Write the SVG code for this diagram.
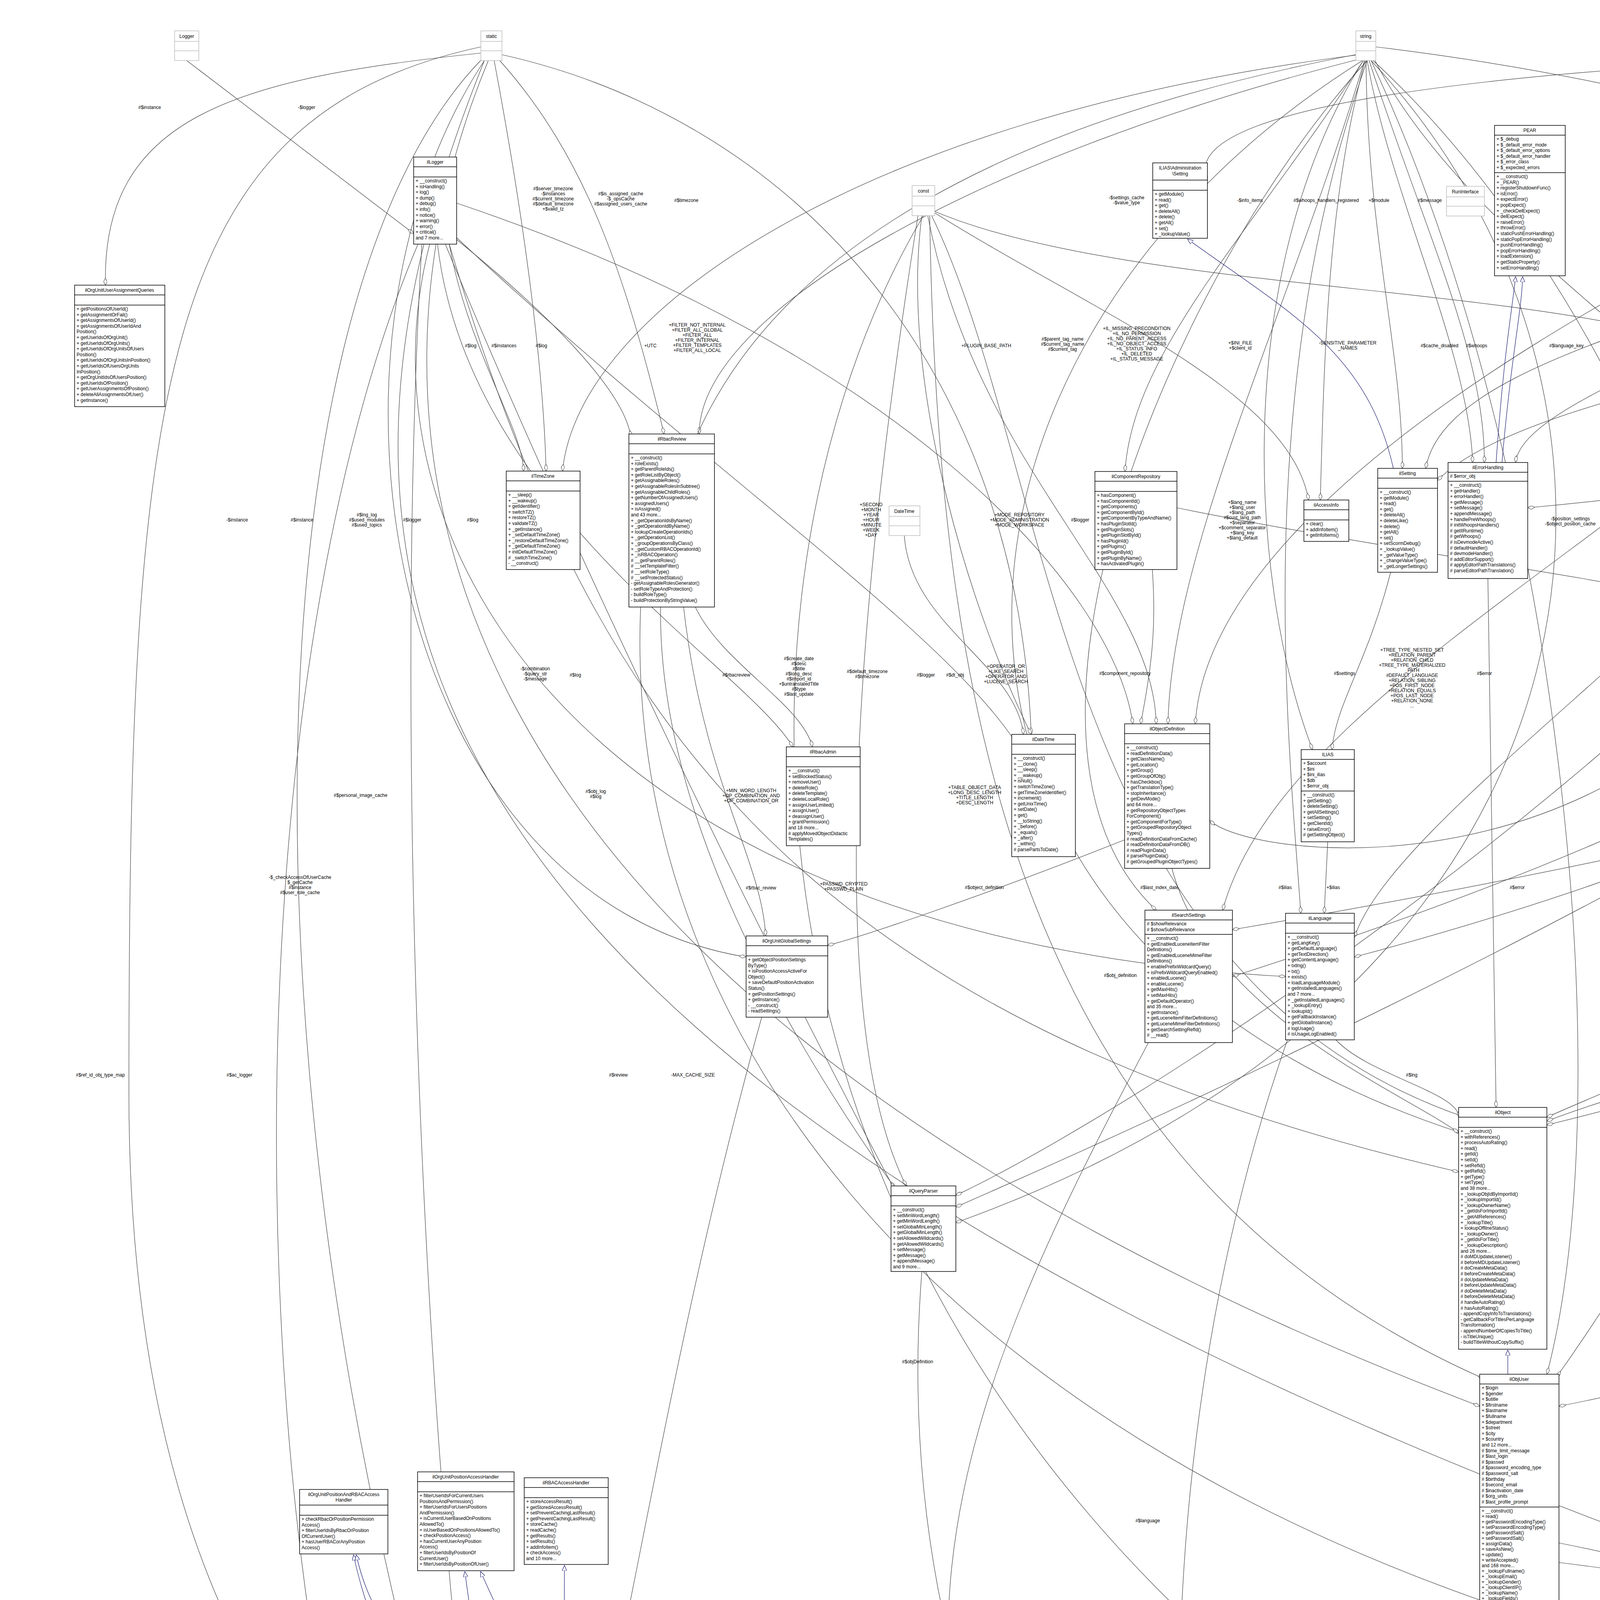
<svg xmlns="http://www.w3.org/2000/svg" width="7960" height="5555" viewBox="0 0 7960 5555">
<style>
text{font-family:"Liberation Sans",Arial,sans-serif;font-size:12px;fill:#000}
.n rect{fill:#fff;stroke:#000;stroke-width:1.5}
.n path{stroke:#000;stroke-width:1.5;fill:none}
.ty rect{fill:#fff;stroke:#bfbfbf;stroke-width:1.5}
.ty path{stroke:#bfbfbf;stroke-width:1.5;fill:none}
.ti{text-anchor:middle}
.e path{fill:none;stroke:#404040;stroke-width:1.2;marker-end:url(#dm)}
.e path.inh{stroke:#191970;marker-end:url(#tri)}
.l text{text-anchor:middle}
.gray rect{fill:#bfbfbf}
</style>
<defs>
<marker id="dm" viewBox="0 0 20 10" refX="20" refY="5" markerWidth="18" markerHeight="9" markerUnits="userSpaceOnUse" orient="auto"><path d="M0,5 L10,0 L20,5 L10,10 Z" fill="#fff" stroke="#404040" stroke-width="1.2"/></marker>
<marker id="tri" viewBox="0 0 14 12" refX="14" refY="6" markerWidth="14" markerHeight="12" markerUnits="userSpaceOnUse" orient="auto"><path d="M0,0 L14,6 L0,12 Z" fill="#fff" stroke="#191970" stroke-width="1.2"/></marker>
</defs>
<rect width="7960" height="5555" fill="#fff"/>
<g id="connectors" class="e">
<path d="M478,155 L1059,598"/>
<path d="M1240,135 C600,200 260,300 270,730"/>
<path d="M1265,155 C1330,500 1390,900 1398,1206"/>
<path d="M1275,150 C1500,400 1600,700 1700,1111"/>
<path d="M1285,140 C2000,300 2600,900 2640,1880"/>
<path d="M1150,625 C1200,900 1340,1100 1340,1206"/>
<path d="M1165,610 C1400,800 1600,1000 1615,1120"/>
<path d="M3480,140 C2200,300 1480,800 1440,1206"/>
<path d="M3485,150 C2500,400 1790,800 1790,1111"/>
<path d="M3490,155 C3200,600 2900,900 2880,1207"/>
<path d="M3493,155 C3300,800 3000,1400 2990,1853"/>
<path d="M3495,155 C3400,500 3390,900 3380,1280"/>
<path d="M3500,155 C3560,500 3760,900 3770,1184"/>
<path d="M3497,155 C3500,600 3590,900 3590,1199"/>
<path d="M3505,155 C3650,600 3800,900 3800,1184"/>
<path d="M3490,155 C3150,700 3200,1500 3360,1919"/>
<path d="M3515,155 C4000,600 4400,1400 4400,1902"/>
<path d="M3500,155 C3200,1000 3300,1900 3330,2338"/>
<path d="M3520,155 C3900,900 5600,1700 5650,2340"/>
<path d="M3488,155 C2300,900 2200,2400 3740,2900"/>
<path d="M3470,140 C1600,500 1200,1500 2290,3040"/>
<path d="M3510,155 C4300,1000 4200,2500 2447,3130"/>
<path d="M3500,155 C3000,700 2500,1900 2960,2330"/>
<path d="M3510,155 C4000,1200 4150,2800 3960,3518"/>
<path d="M3522,120 C5000,300 5700,800 6120,1192"/>
<path d="M2360,552 C2300,1000 2500,1600 2640,1880"/>
<path d="M2375,552 C2500,1200 2950,1500 2960,1853"/>
<path d="M2390,540 C3000,800 4500,700 4600,1067"/>
<path d="M2350,552 C2200,1500 2100,2600 2320,3036"/>
<path d="M2385,552 C2700,1200 2700,2500 3750,2860"/>
<path d="M2380,552 C2400,1800 2600,3000 3800,3530"/>
<path d="M2393,545 C2800,800 3300,1000 3350,1280"/>
<path d="M2364,552 C1800,1500 1770,3500 3780,4700"/>
<path d="M2315,1371 C2330,1600 2600,1700 2620,1880"/>
<path d="M4895,553 C4500,800 3700,900 3650,1199"/>
<path d="M4900,553 C4700,800 3900,1000 3880,1184"/>
<path d="M4905,553 C4850,800 4750,950 4740,1067"/>
<path d="M4915,553 C4950,900 4500,1500 4470,1902"/>
<path d="M4890,553 C4600,1200 3300,1700 3130,2330"/>
<path d="M4925,553 C5100,1500 4500,2800 3985,3525"/>
<path d="M4930,553 C5000,1200 3600,2000 3467,2400"/>
<path d="M4933,540 C5350,900 5400,1600 5470,1983"/>
<path d="M4933,553 C5600,700 6100,900 6100,1192"/>
<path d="M4925,553 C5600,1000 5650,1700 3155,2500"/>
<path d="M5504,130 C4900,300 4700,800 4700,1067"/>
<path d="M5510,152 C5400,250 5200,300 5195,365"/>
<path d="M5530,152 C5700,600 6100,900 6150,1192"/>
<path d="M5553,110 C6500,300 6850,800 6860,1177"/>
<path d="M5504,140 C4500,500 3100,1200 3060,1853"/>
<path d="M5528,152 C5200,1500 4700,2400 3990,4650"/>
<path d="M5520,152 C5450,800 4600,1300 4480,1902"/>
<path d="M5540,152 C6000,900 6300,1700 5780,2345"/>
<path d="M5545,152 C6100,400 6100,1100 3911,1300"/>
<path d="M5550,152 C6000,1500 5600,2800 5760,4333"/>
<path d="M5515,152 C5000,1500 3000,2800 2447,3060"/>
<path d="M5540,152 C5530,800 5530,1500 5530,1983"/>
<path d="M5545,152 C5900,900 5900,1800 3467,2450"/>
<path d="M5504,120 C4000,150 3000,250 3091,460"/>
<path d="M7398,152 L7398,422"/>
<path d="M7385,120 C6800,300 6300,800 6200,1192"/>
<path d="M7410,152 C7600,1200 6000,1900 3155,2380"/>
<path d="M7417,130 C7700,800 7000,2000 5803,2400"/>
<path d="M7400,152 C7500,1700 5500,2500 3960,2880"/>
<path d="M7405,152 C7700,2200 6000,3200 3991,3600"/>
<path d="M7379,110 C6500,400 6300,1400 2447,3090"/>
<path d="M7380,130 C6500,200 5400,450 5217,550"/>
<path d="M7390,152 C6500,1500 5300,2400 3997,4700"/>
<path d="M6920,600 C6000,700 4000,900 3680,1230"/>
<path d="M7000,639 L6900,1177"/>
<path d="M7010,639 C6700,1400 6000,2000 5800,2360"/>
<path d="M7030,639 C7000,1800 5000,2400 3960,2860"/>
<path d="M7050,639 C7100,2500 6500,3500 5858,4420"/>
<path d="M7080,639 C7300,3000 7200,4200 6029,5080"/>
<path d="M7100,639 C7400,3500 6000,5300 3224,5470"/>
<path d="M6916,560 C5800,700 5000,1200 4500,1930"/>
<path d="M7252,551 L7270,1220"/>
<path d="M7396,603 C7380,900 7330,1000 7330,1220"/>
<path d="M2950,1458 C2960,1600 2950,1700 2920,1853"/>
<path d="M3013,1300 C4000,1500 5300,1600 5440,1983"/>
<path d="M5436,1378 C5460,1600 5500,1800 5500,1983"/>
<path d="M4600,1597 C4500,1700 4400,1800 4390,1902"/>
<path d="M5100,662 C5000,900 4800,1000 4762,1100"/>
<path d="M4570,1597 C4100,2300 3200,2200 3097,2100"/>
<path d="M1780,1554 C1850,1700 2050,1800 2080,1912"/>
<path d="M1750,1554 C1800,2000 1950,2200 1960,2396"/>
<path d="M1640,1554 C1580,3000 3000,4300 5683,4450"/>
<path d="M3560,1465 C3500,1700 3420,1800 3410,1919"/>
<path d="M3399,2155 L3390,2338"/>
<path d="M3420,2662 C3500,2750 3740,2800 3734,2860"/>
<path d="M3000,2223 C3100,2600 3600,2800 3734,2900"/>
<path d="M3809,1481 L3830,2835"/>
<path d="M3800,4269 C3750,4400 3780,4500 3860,4635"/>
<path d="M3991,4000 C4800,4100 5300,4250 5683,4390"/>
<path d="M3991,3950 C5000,4150 5500,4500 5855,5080"/>
<path d="M5683,4460 C5200,4600 4500,4700 3997,4790"/>
<path d="M3997,4820 C4600,5000 5400,5100 5850,5120"/>
<path d="M5700,2656 C5900,3500 6050,4400 5980,5023"/>
<path d="M5660,2656 C5600,3500 5700,4000 5720,4333"/>
<path d="M5770,3990 L5770,4333"/>
<path d="M5822,2147 C5820,2250 5800,2300 5795,2340"/>
<path d="M6160,1474 C6300,2800 6200,4000 6029,5090"/>
<path d="M6820,1487 C6800,3000 6200,4000 5858,4450"/>
<path d="M2940,2669 C2500,3500 2000,4500 3050,5440"/>
<path d="M2360,3255 C2300,4000 2500,4800 3080,5414"/>
<path d="M3788,4100 C3000,4300 2200,4500 3110,5414"/>
<path d="M3780,4760 C3500,5000 3300,5200 3180,5414"/>
<path d="M5850,5150 C5000,5300 4000,5420 3224,5500"/>
<path d="M3300,2650 C3000,3500 2950,4500 3100,5414"/>
<path d="M1950,2604 C1700,3500 1600,4300 1426,4937"/>
<path d="M2879,2150 C2500,2300 2200,2400 2119,2420"/>
<path d="M1494,5000 C2500,4900 3300,4800 3780,4740"/>
<path d="M5489,2090 C5200,2600 4400,2700 3960,2870"/>
<path d="M1169,520 C2300,900 2850,1500 2900,1853"/>
<path d="M1160,600 C1800,1200 2400,1600 2600,1900"/>
<path d="M1080,625 C1000,2000 1100,4000 1260,4937"/>
<path d="M1120,625 C1200,1300 1900,1700 2030,1912"/>
<path d="M1140,625 C1500,1500 2000,2500 2290,3045"/>
<path d="M1150,625 C1500,1800 2000,2600 3734,3000"/>
<path d="M1100,625 C900,1400 1500,2400 3291,2500"/>
<path d="M1070,625 C700,1500 620,3000 800,4200 C1200,4700 2800,4650 3780,4680"/>
<path d="M1231,120 C400,300 330,1000 330,2800 C330,4800 1500,5350 3042,5470"/>
<path d="M1250,155 C900,1000 900,2500 3788,3600"/>
<path d="M1240,155 C700,1500 800,3000 5683,4420"/>
<path d="M1235,150 C600,800 600,3000 1250,4950"/>
<path d="M1240,155 C750,900 1000,2300 1910,2450"/>
<path class="inh" d="M3860,3518 L3860,3456"/>
<path class="inh" d="M3830,1184 C3850,900 3870,800 3880,708"/>
<path class="inh" d="M3845,1184 C3870,900 3895,800 3898,708"/>
<path class="inh" d="M3567,1199 C3500,900 3300,800 3040,612"/>
<path class="inh" d="M5075,365 C5050,250 4960,260 4960,230"/>
<path class="inh" d="M1315,4937 L1190,4023"/>
<path class="inh" d="M1282,4937 C1100,4500 950,4200 905,3980"/>
<path class="inh" d="M1385,4430 C1100,4300 960,4200 912,3980"/>
<path class="inh" d="M1410,4416 L1230,4023"/>
<path class="inh" d="M1443,4416 L1445,4007"/>
<path class="inh" d="M3780,4790 C3000,4700 2000,4550 1502,4490"/>
</g>
<g id="edge-labels" class="l">
<text x="785" y="279">-$logger</text>
<text x="383" y="279">#$instance</text>
<text x="1416" y="487"><tspan x="1416">#$server_timezone</tspan><tspan x="1416" dy="13">-$instances</tspan><tspan x="1416" dy="13">#$current_timezone</tspan><tspan x="1416" dy="13">#$default_timezone</tspan><tspan x="1416" dy="13">+$valid_tz</tspan></text>
<text x="1589" y="500"><tspan x="1589">#$is_assigned_cache</tspan><tspan x="1589" dy="13">-$_opsCache</tspan><tspan x="1589" dy="13">#$assigned_users_cache</tspan></text>
<text x="1757" y="517">#$timezone</text>
<text x="1205" y="889">#$log</text>
<text x="1290" y="889">#$instances</text>
<text x="1386" y="889">#$log</text>
<text x="1665" y="889">+UTC</text>
<text x="1785" y="836"><tspan x="1785">+FILTER_NOT_INTERNAL</tspan><tspan x="1785" dy="13">+FILTER_ALL_GLOBAL</tspan><tspan x="1785" dy="13">+FILTER_ALL</tspan><tspan x="1785" dy="13">+FILTER_INTERNAL</tspan><tspan x="1785" dy="13">+FILTER_TEMPLATES</tspan><tspan x="1785" dy="13">+FILTER_ALL_LOCAL</tspan></text>
<text x="2525" y="889">+PLUGIN_BASE_PATH</text>
<text x="2720" y="872"><tspan x="2720">#$parent_tag_name</tspan><tspan x="2720" dy="13">#$current_tag_name</tspan><tspan x="2720" dy="13">#$current_tag</tspan></text>
<text x="2910" y="845"><tspan x="2910">+IL_MISSING_PRECONDITION</tspan><tspan x="2910" dy="13">+IL_NO_PERMISSION</tspan><tspan x="2910" dy="13">+IL_NO_PARENT_ACCESS</tspan><tspan x="2910" dy="13">+IL_NO_OBJECT_ACCESS</tspan><tspan x="2910" dy="13">+IL_STATUS_INFO</tspan><tspan x="2910" dy="13">+IL_DELETED</tspan><tspan x="2910" dy="13">+IL_STATUS_MESSAGE</tspan></text>
<text x="2884" y="510"><tspan x="2884">-$settings_cache</tspan><tspan x="2884" dy="13">-$value_type</tspan></text>
<text x="3200" y="517">-$info_items</text>
<text x="3395" y="517">#$whoops_handlers_registered</text>
<text x="3530" y="517">+$module</text>
<text x="3660" y="517">#$message</text>
<text x="4442" y="461"><tspan x="4442">#$types</tspan><tspan x="4442" dy="13">#$unique_service</tspan><tspan x="4442" dy="13">_id</tspan><tspan x="4442" dy="13">#$active_components</tspan><tspan x="4442" dy="13">#$type_per_component</tspan><tspan x="4442" dy="13">#$available_components</tspan><tspan x="4442" dy="13">#$settings</tspan><tspan x="4442" dy="13">#$instances</tspan><tspan x="4442" dy="13">#$available_types</tspan><tspan x="4442" dy="13">#$active_cache</tspan></text>
<text x="4610" y="517">#$component</text>
<text x="4795" y="517">+$setting</text>
<text x="5280" y="279">#$valid_keys</text>
<text x="5010" y="517">$instance</text>
<text x="6030" y="267"><tspan x="6030">#$current_time</tspan><tspan x="6030" dy="13">#$service_type</tspan></text>
<text x="6065" y="496"><tspan x="6065">-$MESSAGE</tspan><tspan x="6065" dy="13">+$FATAL</tspan><tspan x="6065" dy="13">+$WARNING</tspan></text>
<text x="6195" y="475"><tspan x="6195">$mime_filter</tspan><tspan x="6195" dy="13">-$item_filter</tspan><tspan x="6195" dy="13">-$failed</tspan><tspan x="6195" dy="13">-$creation_filter</tspan><tspan x="6195" dy="13">-$checked</tspan><tspan x="6195" dy="13">-$search_result</tspan></text>
<text x="6300" y="515">#$service_type</text>
<text x="6690" y="490"><tspan x="6690">-$page_number</tspan><tspan x="6690" dy="13">-$root</tspan><tspan x="6690" dy="13">-$usr_id</tspan><tspan x="6690" dy="13">-$search_type</tspan></text>
<text x="6845" y="496"><tspan x="6845">#$object_data_cache</tspan><tspan x="6845" dy="13">#$description_trans</tspan><tspan x="6845" dy="13">#$reference_cache</tspan><tspan x="6845" dy="13">#$trans_loaded</tspan></text>
<text x="7405" y="258"><tspan x="7405">#$g</tspan><tspan x="7405" dy="13">#$r</tspan><tspan x="7405" dy="13">#$b</tspan></text>
<text x="3175" y="882"><tspan x="3175">+$INI_FILE</tspan><tspan x="3175" dy="13">+$client_id</tspan></text>
<text x="3450" y="882"><tspan x="3450">-SENSITIVE_PARAMETER</tspan><tspan x="3450" dy="13">_NAMES</tspan></text>
<text x="3685" y="889">#$cache_disabled</text>
<text x="3780" y="889">#$whoops</text>
<text x="4010" y="889">#$language_key</text>
<text x="4215" y="820"><tspan x="4215">+COMP_PLUGINS</tspan><tspan x="4215" dy="13">+COMP_ILCTRL</tspan><tspan x="4215" dy="13">+TYPE_APC</tspan><tspan x="4215" dy="13">+COMP_OBJ_DEF</tspan><tspan x="4215" dy="13">+TYPE_STATIC</tspan><tspan x="4215" dy="13">+COMP_GLOBAL_SCREEN</tspan><tspan x="4215" dy="13">+COMP_TEMPLATE</tspan><tspan x="4215" dy="13">+ACTIVE</tspan><tspan x="4215" dy="13">+MSG</tspan><tspan x="4215" dy="13">+COMP_TPL_VARIABLES</tspan><tspan x="4215" dy="13">...</tspan></text>
<text x="4405" y="876"><tspan x="4405">#$obj_data</tspan><tspan x="4405" dy="13">#$obj_group</tspan><tspan x="4405" dy="13">#$sub_types</tspan></text>
<text x="4655" y="889">#$DEBUG_ENV</text>
<text x="4800" y="889">#$active</text>
<text x="5010" y="889">#$global_cache</text>
<text x="5160" y="889">#$db</text>
<text x="5330" y="889">#$db</text>
<text x="5420" y="889">#$translations</text>
<text x="5520" y="889">#$listener</text>
<text x="5740" y="846"><tspan x="5740">+LUCENE_DEFAULT</tspan><tspan x="5740" dy="13">+ADVANCED_SEARCH</tspan><tspan x="5740" dy="13">+LAST_QUERY</tspan><tspan x="5740" dy="13">+ADVANCED_MD_SEARCH</tspan><tspan x="5740" dy="13">+LUCENE_USER_SEARCH</tspan><tspan x="5740" dy="13">+LUCENE_ADVANCED</tspan><tspan x="5740" dy="13">+DEFAULT_SEARCH</tspan></text>
<text x="5940" y="889">-$isAnonymous</text>
<text x="6720" y="889">#$db</text>
<text x="6930" y="889">#$db</text>
<text x="7255" y="889">-$dimensionfactory</text>
<text x="7465" y="889">-$colorfactory</text>
<text x="1055" y="1335">#$logger</text>
<text x="1210" y="1335">#$log</text>
<text x="607" y="1335">-$instance</text>
<text x="773" y="1335">#$instance</text>
<text x="939" y="1322"><tspan x="939">#$lng_log</tspan><tspan x="939" dy="13">#$used_modules</tspan><tspan x="939" dy="13">#$used_topics</tspan></text>
<text x="2230" y="1296"><tspan x="2230">+SECOND</tspan><tspan x="2230" dy="13">+MONTH</tspan><tspan x="2230" dy="13">+YEAR</tspan><tspan x="2230" dy="13">+HOUR</tspan><tspan x="2230" dy="13">+MINUTE</tspan><tspan x="2230" dy="13">+WEEK</tspan><tspan x="2230" dy="13">+DAY</tspan></text>
<text x="2610" y="1322"><tspan x="2610">+MODE_REPOSITORY</tspan><tspan x="2610" dy="13">+MODE_ADMINISTRATION</tspan><tspan x="2610" dy="13">+MODE_WORKSPACE</tspan></text>
<text x="2765" y="1335">#$logger</text>
<text x="3180" y="1290"><tspan x="3180">+$lang_name</tspan><tspan x="3180" dy="13">+$lang_user</tspan><tspan x="3180" dy="13">+$lang_path</tspan><tspan x="3180" dy="13">#$cust_lang_path</tspan><tspan x="3180" dy="13">+$separator</tspan><tspan x="3180" dy="13">+$comment_separator</tspan><tspan x="3180" dy="13">+$lang_key</tspan><tspan x="3180" dy="13">+$lang_default</tspan></text>
<text x="4020" y="1332"><tspan x="4020">-$position_settings</tspan><tspan x="4020" dy="13">-$object_position_cache</tspan></text>
<text x="4480" y="1300"><tspan x="4480">#$table_obj_data</tspan><tspan x="4480" dy="13">#$tree_pk</tspan><tspan x="4480" dy="13">#$table_obj_reference</tspan><tspan x="4480" dy="13">-$lang_code</tspan><tspan x="4480" dy="13">#$obj_pk</tspan><tspan x="4480" dy="13">#$ref_pk</tspan><tspan x="4480" dy="13">#$table_tree</tspan></text>
<text x="4890" y="1335">#$loaded</text>
<text x="5655" y="1329"><tspan x="5655">#$lucene_item_filter</tspan><tspan x="5655" dy="13">#$lucene_mime_filter</tspan></text>
<text x="5880" y="1316"><tspan x="5880">#$cached_modules</tspan><tspan x="5880" dy="13">#$map_modules_txt</tspan><tspan x="5880" dy="13">#$loaded_modules</tspan><tspan x="5880" dy="13">#$text</tspan></text>
<text x="6350" y="1290"><tspan x="6350">#$not_preloaded</tspan><tspan x="6350" dy="13">#$translation_cache</tspan><tspan x="6350" dy="13">#$is_saved_cache</tspan><tspan x="6350" dy="13">#$in_tree_cache</tspan><tspan x="6350" dy="13">#$path_id_cache</tspan><tspan x="6350" dy="13">#$parent_cache</tspan><tspan x="6350" dy="13">#$parent_type_cache</tspan><tspan x="6350" dy="13">#$depth_cache</tspan></text>
<text x="6480" y="1339">#$db</text>
<text x="6725" y="1339">#$db</text>
<text x="7520" y="1303"><tspan x="7520">#$auto_complete_length</tspan><tspan x="7520" dy="13">-$max_hits</tspan><tspan x="7520" dy="13">#$numSubitems</tspan><tspan x="7520" dy="13">#$fragmentSize</tspan><tspan x="7520" dy="13">#$default_operator</tspan><tspan x="7520" dy="13">#$fragmentCount</tspan></text>
<text x="7640" y="1322"><tspan x="7640">#$tree_id</tspan><tspan x="7640" dy="13">-$gap</tspan><tspan x="7640" dy="13">#$root_id</tspan></text>
<text x="1370" y="1716"><tspan x="1370">-$combination</tspan><tspan x="1370" dy="13">-$query_str</tspan><tspan x="1370" dy="13">-$message</tspan></text>
<text x="1473" y="1732">#$log</text>
<text x="1885" y="1732">#$rbacreview</text>
<text x="2045" y="1690"><tspan x="2045">#$create_date</tspan><tspan x="2045" dy="13">#$desc</tspan><tspan x="2045" dy="13">#$title</tspan><tspan x="2045" dy="13">#$long_desc</tspan><tspan x="2045" dy="13">#$import_id</tspan><tspan x="2045" dy="13">+$untranslatedTitle</tspan><tspan x="2045" dy="13">#$type</tspan><tspan x="2045" dy="13">#$last_update</tspan></text>
<text x="2220" y="1723"><tspan x="2220">#$default_timezone</tspan><tspan x="2220" dy="13">#$timezone</tspan></text>
<text x="2370" y="1732">#$logger</text>
<text x="2445" y="1732">#$dt_obj</text>
<text x="2575" y="1710"><tspan x="2575">+OPERATOR_OR</tspan><tspan x="2575" dy="13">+LIKE_SEARCH</tspan><tspan x="2575" dy="13">+OPERATOR_AND</tspan><tspan x="2575" dy="13">+LUCENE_SEARCH</tspan></text>
<text x="2880" y="1728">#$component_repository</text>
<text x="3442" y="1728">#$settings</text>
<text x="3615" y="1668"><tspan x="3615">+TREE_TYPE_NESTED_SET</tspan><tspan x="3615" dy="13">+RELATION_PARENT</tspan><tspan x="3615" dy="13">+RELATION_CHILD</tspan><tspan x="3615" dy="13">+TREE_TYPE_MATERIALIZED</tspan><tspan x="3615" dy="13">_PATH</tspan><tspan x="3615" dy="13">#DEFAULT_LANGUAGE</tspan><tspan x="3615" dy="13">+RELATION_SIBLING</tspan><tspan x="3615" dy="13">+POS_FIRST_NODE</tspan><tspan x="3615" dy="13">+RELATION_EQUALS</tspan><tspan x="3615" dy="13">+POS_LAST_NODE</tspan><tspan x="3615" dy="13">+RELATION_NONE</tspan><tspan x="3615" dy="13">...</tspan></text>
<text x="3800" y="1728">#$error</text>
<text x="4243" y="1722"><tspan x="4243">-$quoted_words</tspan><tspan x="4243" dy="13">-$words</tspan></text>
<text x="4370" y="1728">#$global_cache</text>
<text x="4656" y="1663"><tspan x="4656">#$show_limited_user</tspan><tspan x="4656" dy="13">#$lucene_mime_filter</tspan><tspan x="4656" dy="13">_enabled</tspan><tspan x="4656" dy="13">#$date_filter</tspan><tspan x="4656" dy="13">#$user_search</tspan><tspan x="4656" dy="13">#$show_inactiv_user</tspan><tspan x="4656" dy="13">#$lucene</tspan><tspan x="4656" dy="13">#$lucene_offline</tspan><tspan x="4656" dy="13">_filter</tspan><tspan x="4656" dy="13">#$prefix_wildcard</tspan><tspan x="4656" dy="13">#$hide_adv_search</tspan><tspan x="4656" dy="13">#$lucene_item_filter</tspan><tspan x="4656" dy="13">_enabled</tspan><tspan x="4656" dy="13">...</tspan></text>
<text x="4890" y="1728">#$usage_log_enabled</text>
<text x="5230" y="1728">#$component_repository</text>
<text x="5380" y="1728">#$use_cache</text>
<text x="5505" y="1728">#$component_factory</text>
<text x="6040" y="1728">+$objectList</text>
<text x="6545" y="1722"><tspan x="6545">-$min_word_length</tspan><tspan x="6545" dy="13">-$global_min_length</tspan></text>
<text x="6830" y="1728">#$db</text>
<text x="7540" y="1700"><tspan x="7540">#$ref_id</tspan><tspan x="7540" dy="13">#$max_desc</tspan><tspan x="7540" dy="13">#$max_title</tspan><tspan x="7540" dy="13">#$owner</tspan><tspan x="7540" dy="13">#$id</tspan></text>
<text x="923" y="2040">#$personal_image_cache</text>
<text x="1525" y="2030"><tspan x="1525">#$obj_log</tspan><tspan x="1525" dy="13">#$log</tspan></text>
<text x="1923" y="2028"><tspan x="1923">+MIN_WORD_LENGTH</tspan><tspan x="1923" dy="13">+OP_COMBINATION_AND</tspan><tspan x="1923" dy="13">+OP_COMBINATION_OR</tspan></text>
<text x="2495" y="2020"><tspan x="2495">+TABLE_OBJECT_DATA</tspan><tspan x="2495" dy="13">+LONG_DESC_LENGTH</tspan><tspan x="2495" dy="13">+TITLE_LENGTH</tspan><tspan x="2495" dy="13">+DESC_LENGTH</tspan></text>
<text x="4260" y="1980"><tspan x="4260">#$ext_account</tspan><tspan x="4260" dy="13">+$email</tspan><tspan x="4260" dy="13">+$phone_office</tspan><tspan x="4260" dy="13">+$institution</tspan><tspan x="4260" dy="13">#$first_login</tspan><tspan x="4260" dy="13">+$longitude</tspan><tspan x="4260" dy="13">+$hobby</tspan><tspan x="4260" dy="13">+$zipcode</tspan><tspan x="4260" dy="13">#$passwd_type</tspan><tspan x="4260" dy="13">+$referral_comment</tspan><tspan x="4260" dy="13">...</tspan></text>
<text x="4880" y="2038">-$wildcards_allowed</text>
<text x="5290" y="2003"><tspan x="5290">#$register</tspan><tspan x="5290" dy="13">#$call_by_reference</tspan><tspan x="5290" dy="13">#$referenced</tspan><tspan x="5290" dy="13">#$offline</tspan><tspan x="5290" dy="13">$process_auto</tspan><tspan x="5290" dy="13">_reating</tspan><tspan x="5290" dy="13">#$add_dots</tspan></text>
<text x="7654" y="2000"><tspan x="7654">#$time_limit_owner</tspan><tspan x="7654" dy="13">+$active</tspan><tspan x="7654" dy="13">#$time_limit_from</tspan><tspan x="7654" dy="13">#$time_limit_until</tspan><tspan x="7654" dy="13">+$login_attempts</tspan><tspan x="7654" dy="13">#$last_password_change_ts</tspan></text>
<text x="768" y="2250"><tspan x="768">-$_checkAccessOfUserCache</tspan><tspan x="768" dy="13">$_getCache</tspan><tspan x="768" dy="13">#$instance</tspan><tspan x="768" dy="13">#$user_role_cache</tspan></text>
<text x="1948" y="2277">#$rbac_review</text>
<text x="2160" y="2267"><tspan x="2160">+PASSWD_CRYPTED</tspan><tspan x="2160" dy="13">+PASSWD_PLAIN</tspan></text>
<text x="2520" y="2276">#$object_definition</text>
<text x="2968" y="2276">#$last_index_date</text>
<text x="3290" y="2276">#$ilias</text>
<text x="3413" y="2276">+$ilias</text>
<text x="3884" y="2276">#$error</text>
<text x="4147" y="2276">#$global_cache</text>
<text x="5311" y="2262"><tspan x="5311">#$profile_incomplete</tspan><tspan x="5311" dy="13">#$passwd_policy_reset</tspan><tspan x="5311" dy="13">#$time_limit_unlimited</tspan><tspan x="5311" dy="13">-$is_self_registered</tspan></text>
<text x="5848" y="2274">$tree_impl</text>
<text x="2868" y="2501">#$obj_definition</text>
<text x="4755" y="2450"><tspan x="4755">#$obj_tree_cache</tspan><tspan x="4755" dy="13">#$current_result_element</tspan><tspan x="4755" dy="13">#$last_result</tspan><tspan x="4755" dy="13">#$results</tspan><tspan x="4755" dy="13">#$stored_rbac_access</tspan><tspan x="4755" dy="13">#$obj_id_cache</tspan><tspan x="4755" dy="13">#$ac_cache</tspan><tspan x="4755" dy="13">#$obj_type_cache</tspan></text>
<text x="4962" y="2502">#$app_event_handler</text>
<text x="5310" y="2502">-MAX_CACHE_ENTRIES</text>
<text x="3614" y="2756">#$lng</text>
<text x="257" y="2756">#$ref_id_obj_type_map</text>
<text x="613" y="2756">#$ac_logger</text>
<text x="1583" y="2756">#$review</text>
<text x="1774" y="2756">-MAX_CACHE_SIZE</text>
<text x="5540" y="2712"><tspan x="5540">#$condition</tspan><tspan x="5540" dy="13">#$rbac</tspan><tspan x="5540" dy="13">#$status</tspan><tspan x="5540" dy="13">#$path</tspan><tspan x="5540" dy="13">-$prevent_caching</tspan><tspan x="5540" dy="13">_last_result</tspan><tspan x="5540" dy="13">#$cache</tspan><tspan x="5540" dy="13">#$tree</tspan></text>
<text x="6717" y="2758">#$objectDataCache</text>
<text x="7000" y="2758">#$db</text>
<text x="5949" y="3490">#$tree</text>
<text x="6628" y="3490">#$search_cache</text>
<text x="7270" y="3490">-$db</text>
<text x="2349" y="3490">#$objDefinition</text>
<text x="2938" y="3897">#$language</text>
<text x="3910" y="4455">#$user</text>
<text x="4700" y="4204">#$user</text>
<text x="5288" y="4305">#$user</text>
<text x="5791" y="4302">#$http</text>
<text x="6048" y="4302">#$tree</text>
<text x="1583" y="4305">-$ref</text>
<text x="1821" y="4305">#$search_settings</text>
<text x="1984" y="4606">-$user</text>
<text x="2081" y="4606">-$query_parser</text>
<text x="5543" y="4607">#$rbacsystem</text>
<text x="1962" y="4907">#$ilOrgUnitPositionAccess</text>
<text x="2959" y="4907">-$access</text>
<text x="4701" y="4908">#$ilAccess</text>
<text x="4007" y="5383">#search_result</text>
</g>
<g id="Logger" class="ty"><rect x="447" y="79" width="62" height="76"/><text class="ti" x="478" y="97">Logger</text><path d="M447,106 h62 M447,130 h62"/></g>
<g id="static" class="ty"><rect x="1231" y="79" width="54" height="76"/><text class="ti" x="1258" y="97">static</text><path d="M1231,106 h54 M1231,130 h54"/></g>
<g id="string" class="ty"><rect x="3471" y="79" width="51" height="76"/><text class="ti" x="3496" y="97">string</text><path d="M3471,106 h51 M3471,130 h51"/></g>
<g id="array" class="ty"><rect x="5504" y="80" width="49" height="72"/><text class="ti" x="5528" y="98">array</text><path d="M5504,106 h49 M5504,129 h49"/></g>
<g id="int" class="ty"><rect x="7379" y="80" width="38" height="72"/><text class="ti" x="7398" y="98">int</text><path d="M7379,106 h38 M7379,129 h38"/></g>
<g id="const" class="ty"><rect x="2335" y="475" width="58" height="77"/><text class="ti" x="2364" y="493">const</text><path d="M2335,502 h58 M2335,527 h58"/></g>
<g id="RunInterface" class="ty"><rect x="3703" y="477" width="97" height="76"/><text class="ti" x="3751" y="495">RunInterface</text><path d="M3703,504 h97 M3703,528 h97"/></g>
<g id="bool" class="ty"><rect x="4886" y="477" width="47" height="76"/><text class="ti" x="4909" y="495">bool</text><path d="M4886,504 h47 M4886,528 h47"/></g>
<g id="Dimension" class="ty"><rect x="7211" y="474" width="83" height="77"/><text class="ti" x="7252" y="492">Dimension</text><path d="M7211,501 h83 M7211,526 h83"/></g>
<g id="DateTime" class="ty"><rect x="2276" y="1295" width="79" height="76"/><text class="ti" x="2315" y="1313">DateTime</text><path d="M2276,1322 h79 M2276,1346 h79"/></g>
<g id="ilAccessHandler" class="n"><rect x="1385" y="4416" width="117" height="74"/><text class="ti" x="1443" y="4433">ilAccessHandler</text><path d="M1385,4441 h117 M1385,4466 h117"/></g>
<g id="ilLogger" class="n"><rect x="1059" y="402" width="110" height="223"/><text class="ti" x="1114" y="419">ilLogger</text><path d="M1059,427 h110 M1059,453 h110"/><text x="1064" y="467"><tspan x="1064">+ __construct()</tspan><tspan x="1064" dy="14.6">+ isHandling()</tspan><tspan x="1064" dy="14.6">+ log()</tspan><tspan x="1064" dy="14.6">+ dump()</tspan><tspan x="1064" dy="14.6">+ debug()</tspan><tspan x="1064" dy="14.6">+ info()</tspan><tspan x="1064" dy="14.6">+ notice()</tspan><tspan x="1064" dy="14.6">+ warning()</tspan><tspan x="1064" dy="14.6">+ error()</tspan><tspan x="1064" dy="14.6">+ critical()</tspan><tspan x="1064" dy="14.6">and 7 more...</tspan></text></g>
<g id="ilOrgUnitUserAssignmentQueries" class="n"><rect x="191" y="730" width="231" height="311"/><text class="ti" x="306" y="747">ilOrgUnitUserAssignmentQueries</text><path d="M191,755 h231 M191,781 h231"/><text x="196" y="795"><tspan x="196">+ getPositionsOfUserId()</tspan><tspan x="196" dy="14.6">+ getAssignmentOrFail()</tspan><tspan x="196" dy="14.6">+ getAssignmentsOfUserId()</tspan><tspan x="196" dy="14.6">+ getAssignmentsOfUserIdAnd</tspan><tspan x="196" dy="14.6">Position()</tspan><tspan x="196" dy="14.6">+ getUserIdsOfOrgUnit()</tspan><tspan x="196" dy="14.6">+ getUserIdsOfOrgUnits()</tspan><tspan x="196" dy="14.6">+ getUserIdsOfOrgUnitsOfUsers</tspan><tspan x="196" dy="14.6">Position()</tspan><tspan x="196" dy="14.6">+ getUserIdsOfOrgUnitsInPosition()</tspan><tspan x="196" dy="14.6">+ getUserIdsOfUsersOrgUnits</tspan><tspan x="196" dy="14.6">InPosition()</tspan><tspan x="196" dy="14.6">+ getOrgUnitIdsOfUsersPosition()</tspan><tspan x="196" dy="14.6">+ getUserIdsOfPosition()</tspan><tspan x="196" dy="14.6">+ getUserAssignmentsOfPosition()</tspan><tspan x="196" dy="14.6">+ deleteAllAssignmentsOfUser()</tspan><tspan x="196" dy="14.6">+ getInstance()</tspan></text></g>
<g id="ilTimeZone" class="n"><rect x="1296" y="1206" width="189" height="252"/><text class="ti" x="1390" y="1223">ilTimeZone</text><path d="M1296,1231 h189 M1296,1257 h189"/><text x="1301" y="1271"><tspan x="1301">+ __sleep()</tspan><tspan x="1301" dy="14.6">+ __wakeup()</tspan><tspan x="1301" dy="14.6">+ getIdentifier()</tspan><tspan x="1301" dy="14.6">+ switchTZ()</tspan><tspan x="1301" dy="14.6">+ restoreTZ()</tspan><tspan x="1301" dy="14.6">+ validateTZ()</tspan><tspan x="1301" dy="14.6">+ _getInstance()</tspan><tspan x="1301" dy="14.6">+ _setDefaultTimeZone()</tspan><tspan x="1301" dy="14.6">+ _restoreDefaultTimeZone()</tspan><tspan x="1301" dy="14.6">+ _getDefaultTimeZone()</tspan><tspan x="1301" dy="14.6">+ initDefaultTimeZone()</tspan><tspan x="1301" dy="14.6"># _switchTimeZone()</tspan><tspan x="1301" dy="14.6">- __construct()</tspan></text></g>
<g id="ilRbacReview" class="n"><rect x="1610" y="1111" width="219" height="443"/><text class="ti" x="1720" y="1128">ilRbacReview</text><path d="M1610,1136 h219 M1610,1162 h219"/><text x="1615" y="1176"><tspan x="1615">+ __construct()</tspan><tspan x="1615" dy="14.6">+ roleExists()</tspan><tspan x="1615" dy="14.6">+ getParentRoleIds()</tspan><tspan x="1615" dy="14.6">+ getRoleListByObject()</tspan><tspan x="1615" dy="14.6">+ getAssignableRoles()</tspan><tspan x="1615" dy="14.6">+ getAssignableRolesInSubtree()</tspan><tspan x="1615" dy="14.6">+ getAssignableChildRoles()</tspan><tspan x="1615" dy="14.6">+ getNumberOfAssignedUsers()</tspan><tspan x="1615" dy="14.6">+ assignedUsers()</tspan><tspan x="1615" dy="14.6">+ isAssigned()</tspan><tspan x="1615" dy="14.6">and 43 more...</tspan><tspan x="1615" dy="14.6">+ _getOperationIdsByName()</tspan><tspan x="1615" dy="14.6">+ _getOperationIdByName()</tspan><tspan x="1615" dy="14.6">+ lookupCreateOperationIds()</tspan><tspan x="1615" dy="14.6">+ _getOperationList()</tspan><tspan x="1615" dy="14.6">+ _groupOperationsByClass()</tspan><tspan x="1615" dy="14.6">+ _getCustomRBACOperationId()</tspan><tspan x="1615" dy="14.6">+ _isRBACOperation()</tspan><tspan x="1615" dy="14.6"># __getParentRoles()</tspan><tspan x="1615" dy="14.6"># __setTemplateFilter()</tspan><tspan x="1615" dy="14.6"># __setRoleType()</tspan><tspan x="1615" dy="14.6"># __setProtectedStatus()</tspan><tspan x="1615" dy="14.6">- getAssignableRolesGenerator()</tspan><tspan x="1615" dy="14.6">- setRoleTypeAndProtection()</tspan><tspan x="1615" dy="14.6">- buildRoleType()</tspan><tspan x="1615" dy="14.6">- buildProtectionByStringValue()</tspan></text></g>
<g id="ilComponentRepository" class="n"><rect x="2803" y="1207" width="210" height="251"/><text class="ti" x="2908" y="1224">ilComponentRepository</text><path d="M2803,1232 h210 M2803,1258 h210"/><text x="2808" y="1272"><tspan x="2808">+ hasComponent()</tspan><tspan x="2808" dy="14.6">+ hasComponentId()</tspan><tspan x="2808" dy="14.6">+ getComponents()</tspan><tspan x="2808" dy="14.6">+ getComponentById()</tspan><tspan x="2808" dy="14.6">+ getComponentByTypeAndName()</tspan><tspan x="2808" dy="14.6">+ hasPluginSlotId()</tspan><tspan x="2808" dy="14.6">+ getPluginSlots()</tspan><tspan x="2808" dy="14.6">+ getPluginSlotById()</tspan><tspan x="2808" dy="14.6">+ hasPluginId()</tspan><tspan x="2808" dy="14.6">+ getPlugins()</tspan><tspan x="2808" dy="14.6">+ getPluginById()</tspan><tspan x="2808" dy="14.6">+ getPluginByName()</tspan><tspan x="2808" dy="14.6">+ hasActivatedPlugin()</tspan></text></g>
<g id="ILIAS_Administration_Setting" class="n"><rect x="2951" y="417" width="140" height="193"/><text class="ti" x="3021" y="434"><tspan x="3021">ILIAS\Administration</tspan><tspan x="3021" dy="15">\Setting</tspan></text><path d="M2951,461 h140 M2951,487 h140"/><text x="2956" y="501"><tspan x="2956">+ getModule()</tspan><tspan x="2956" dy="14.6">+ read()</tspan><tspan x="2956" dy="14.6">+ get()</tspan><tspan x="2956" dy="14.6">+ deleteAll()</tspan><tspan x="2956" dy="14.6">+ delete()</tspan><tspan x="2956" dy="14.6">+ getAll()</tspan><tspan x="2956" dy="14.6">+ set()</tspan><tspan x="2956" dy="14.6">+ _lookupValue()</tspan></text></g>
<g id="PEAR" class="n"><rect x="3826" y="321" width="181" height="385"/><text class="ti" x="3916" y="338">PEAR</text><path d="M3826,346 h181 M3826,442 h181"/><text x="3831" y="360"><tspan x="3831">+ $_debug</tspan><tspan x="3831" dy="14.6">+ $_default_error_mode</tspan><tspan x="3831" dy="14.6">+ $_default_error_options</tspan><tspan x="3831" dy="14.6">+ $_default_error_handler</tspan><tspan x="3831" dy="14.6">+ $_error_class</tspan><tspan x="3831" dy="14.6">+ $_expected_errors</tspan></text><text x="3831" y="456"><tspan x="3831">+ __construct()</tspan><tspan x="3831" dy="14.6">+ _PEAR()</tspan><tspan x="3831" dy="14.6">+ registerShutdownFunc()</tspan><tspan x="3831" dy="14.6">+ isError()</tspan><tspan x="3831" dy="14.6">+ expectError()</tspan><tspan x="3831" dy="14.6">+ popExpect()</tspan><tspan x="3831" dy="14.6">+ _checkDelExpect()</tspan><tspan x="3831" dy="14.6">+ delExpect()</tspan><tspan x="3831" dy="14.6">+ raiseError()</tspan><tspan x="3831" dy="14.6">+ throwError()</tspan><tspan x="3831" dy="14.6">+ staticPushErrorHandling()</tspan><tspan x="3831" dy="14.6">+ staticPopErrorHandling()</tspan><tspan x="3831" dy="14.6">+ pushErrorHandling()</tspan><tspan x="3831" dy="14.6">+ popErrorHandling()</tspan><tspan x="3831" dy="14.6">+ loadExtension()</tspan><tspan x="3831" dy="14.6">+ getStaticProperty()</tspan><tspan x="3831" dy="14.6">+ setErrorHandling()</tspan></text></g>
<g id="ilSetting" class="n"><rect x="3527" y="1199" width="153" height="266"/><text class="ti" x="3603" y="1216">ilSetting</text><path d="M3527,1224 h153 M3527,1250 h153"/><text x="3532" y="1264"><tspan x="3532">+ __construct()</tspan><tspan x="3532" dy="14.6">+ getModule()</tspan><tspan x="3532" dy="14.6">+ read()</tspan><tspan x="3532" dy="14.6">+ get()</tspan><tspan x="3532" dy="14.6">+ deleteAll()</tspan><tspan x="3532" dy="14.6">+ deleteLike()</tspan><tspan x="3532" dy="14.6">+ delete()</tspan><tspan x="3532" dy="14.6">+ getAll()</tspan><tspan x="3532" dy="14.6">+ set()</tspan><tspan x="3532" dy="14.6">+ setScormDebug()</tspan><tspan x="3532" dy="14.6">+ _lookupValue()</tspan><tspan x="3532" dy="14.6">+ _getValueType()</tspan><tspan x="3532" dy="14.6">+ _changeValueType()</tspan><tspan x="3532" dy="14.6">+ _getLongerSettings()</tspan></text></g>
<g id="ilErrorHandling" class="n"><rect x="3707" y="1184" width="204" height="297"/><text class="ti" x="3809" y="1201">ilErrorHandling</text><path d="M3707,1209 h204 M3707,1232 h204"/><text x="3712" y="1223"># $error_obj</text><text x="3712" y="1246"><tspan x="3712">+ __construct()</tspan><tspan x="3712" dy="14.6">+ getHandler()</tspan><tspan x="3712" dy="14.6">+ errorHandler()</tspan><tspan x="3712" dy="14.6">+ getMessage()</tspan><tspan x="3712" dy="14.6">+ setMessage()</tspan><tspan x="3712" dy="14.6">+ appendMessage()</tspan><tspan x="3712" dy="14.6">+ handlePreWhoops()</tspan><tspan x="3712" dy="14.6"># initWhoopsHandlers()</tspan><tspan x="3712" dy="14.6"># getIlRuntime()</tspan><tspan x="3712" dy="14.6"># getWhoops()</tspan><tspan x="3712" dy="14.6"># isDevmodeActive()</tspan><tspan x="3712" dy="14.6"># defaultHandler()</tspan><tspan x="3712" dy="14.6"># devmodeHandler()</tspan><tspan x="3712" dy="14.6"># addEditorSupport()</tspan><tspan x="3712" dy="14.6"># applyEditorPathTranslations()</tspan><tspan x="3712" dy="14.6"># parseEditorPathTranslation()</tspan></text></g>
<g id="ilAccessInfo" class="n"><rect x="3338" y="1280" width="115" height="106"/><text class="ti" x="3395" y="1297">ilAccessInfo</text><path d="M3338,1305 h115 M3338,1331 h115"/><text x="3343" y="1345"><tspan x="3343">+ clear()</tspan><tspan x="3343" dy="14.6">+ addInfoItem()</tspan><tspan x="3343" dy="14.6">+ getInfoItems()</tspan></text></g>
<g id="ilGlobalCache" class="n"><rect x="4554" y="1067" width="208" height="530"/><text class="ti" x="4658" y="1084">ilGlobalCache</text><path d="M4554,1092 h208 M4554,1188 h208"/><text x="4559" y="1106"><tspan x="4559">+ TYPE_MEMCACHED</tspan><tspan x="4559" dy="14.6">+ TYPE_FALLBACK</tspan><tspan x="4559" dy="14.6">+ COMP_CLNG</tspan><tspan x="4559" dy="14.6">+ COMP_RBAC_UA</tspan><tspan x="4559" dy="14.6">+ COMP_EVENTS</tspan><tspan x="4559" dy="14.6">+ COMP_TPL_BLOCKS</tspan></text><text x="4559" y="1202"><tspan x="4559">+ isActive()</tspan><tspan x="4559" dy="14.6">+ isValid()</tspan><tspan x="4559" dy="14.6">+ isInstallable()</tspan><tspan x="4559" dy="14.6">+ isCacheServiceInstallable()</tspan><tspan x="4559" dy="14.6">+ getInstallationFailureReason()</tspan><tspan x="4559" dy="14.6">+ exists()</tspan><tspan x="4559" dy="14.6">+ set()</tspan><tspan x="4559" dy="14.6">+ get()</tspan><tspan x="4559" dy="14.6">+ delete()</tspan><tspan x="4559" dy="14.6">+ flush()</tspan><tspan x="4559" dy="14.6">and 7 more...</tspan><tspan x="4559" dy="14.6">+ setup()</tspan><tspan x="4559" dy="14.6">+ getInstance()</tspan><tspan x="4559" dy="14.6">+ log()</tspan><tspan x="4559" dy="14.6">+ getAllInstallableTypes()</tspan><tspan x="4559" dy="14.6">+ getAllTypes()</tspan><tspan x="4559" dy="14.6">+ lookupServiceClassName()</tspan><tspan x="4559" dy="14.6">+ lookupServiceConfigName()</tspan><tspan x="4559" dy="14.6">+ getSettings()</tspan><tspan x="4559" dy="14.6">+ setSettings()</tspan><tspan x="4559" dy="14.6">+ getActiveComponents()</tspan><tspan x="4559" dy="14.6">+ setActiveComponents()</tspan><tspan x="4559" dy="14.6">+ getAvailableComponents()</tspan><tspan x="4559" dy="14.6">+ setAvailableComponents()</tspan><tspan x="4559" dy="14.6"># __construct()</tspan><tspan x="4559" dy="14.6"># checkSettings()</tspan><tspan x="4559" dy="14.6"># generateServiceId()</tspan></text></g>
<g id="ilGlobalCacheServiceInterface" class="n"><rect x="4860" y="5" width="197" height="223"/><text class="ti" x="4958" y="22">ilGlobalCacheServiceInterface</text><path d="M4860,30 h197 M4860,56 h197"/><text x="4865" y="70"><tspan x="4865">+ unserialize()</tspan><tspan x="4865" dy="13.5">+ get()</tspan><tspan x="4865" dy="13.5">+ set()</tspan><tspan x="4865" dy="13.5">+ getServiceId()</tspan><tspan x="4865" dy="13.5">+ setServiceId()</tspan><tspan x="4865" dy="13.5">+ getComponent()</tspan><tspan x="4865" dy="13.5">+ setComponent()</tspan><tspan x="4865" dy="13.5">+ isActive()</tspan><tspan x="4865" dy="13.5">+ isInstallable()</tspan><tspan x="4865" dy="13.5">+ returnKey()</tspan><tspan x="4865" dy="13.5">and 8 more...</tspan></text></g>
<g id="ilGlobalCacheService" class="n"><rect x="5070" y="365" width="147" height="297"/><text class="ti" x="5143" y="382">ilGlobalCacheService</text><path d="M5070,390 h147 M5070,416 h147"/><text x="5075" y="430"><tspan x="5075">+ __construct()</tspan><tspan x="5075" dy="14.6">+ unserialize()</tspan><tspan x="5075" dy="14.6">+ get()</tspan><tspan x="5075" dy="14.6">+ set()</tspan><tspan x="5075" dy="14.6">+ serialize()</tspan><tspan x="5075" dy="14.6">+ getServiceId()</tspan><tspan x="5075" dy="14.6">+ setServiceId()</tspan><tspan x="5075" dy="14.6">+ getComponent()</tspan><tspan x="5075" dy="14.6">+ setComponent()</tspan><tspan x="5075" dy="14.6">+ isActive()</tspan><tspan x="5075" dy="14.6">and 11 more...</tspan><tspan x="5075" dy="14.6"># getActive()</tspan><tspan x="5075" dy="14.6"># getInstallable()</tspan><tspan x="5075" dy="14.6"># getMemoryLimit()</tspan><tspan x="5075" dy="14.6"># getMinMemory()</tspan><tspan x="5075" dy="14.6"># checkMemory()</tspan></text></g>
<g id="ilDBInterface" class="n"><rect x="6916" y="388" width="236" height="251"/><text class="ti" x="7034" y="405">ilDBInterface</text><path d="M6916,413 h236 M6916,439 h236"/><text x="6921" y="453"><tspan x="6921">+ doesCollationSupportMB4Strings()</tspan><tspan x="6921" dy="14.6">+ sanitizeMB4StringIfNotSupported()</tspan><tspan x="6921" dy="14.6">+ initFromIniFile()</tspan><tspan x="6921" dy="14.6">+ connect()</tspan><tspan x="6921" dy="14.6">+ nextId()</tspan><tspan x="6921" dy="14.6">+ createTable()</tspan><tspan x="6921" dy="14.6">+ addPrimaryKey()</tspan><tspan x="6921" dy="14.6">+ createSequence()</tspan><tspan x="6921" dy="14.6">+ getSequenceName()</tspan><tspan x="6921" dy="14.6">+ tableExists()</tspan><tspan x="6921" dy="14.6">and 74 more...</tspan><tspan x="6921" dy="14.6">+ getReservedWords()</tspan><tspan x="6921" dy="14.6">+ isReservedWord()</tspan></text></g>
<g id="ILIAS_Data_Color" class="n"><rect x="7335" y="422" width="123" height="181"/><text class="ti" x="7396" y="439">ILIAS\Data\Color</text><path d="M7335,447 h123 M7335,473 h123"/><text x="7340" y="487"><tspan x="7340">+ __construct()</tspan><tspan x="7340" dy="14.6">+ r()</tspan><tspan x="7340" dy="14.6">+ g()</tspan><tspan x="7340" dy="14.6">+ b()</tspan><tspan x="7340" dy="14.6">+ asArray()</tspan><tspan x="7340" dy="14.6">+ asHex()</tspan><tspan x="7340" dy="14.6">+ asRGBString()</tspan><tspan x="7340" dy="14.6">+ isDark()</tspan></text></g>
<g id="ilUserSearchCache" class="n"><rect x="6088" y="1192" width="151" height="282"/><text class="ti" x="6163" y="1209">ilUserSearchCache</text><path d="M6088,1217 h151 M6088,1240 h151"/><text x="6093" y="1231">- $query</text><text x="6093" y="1254"><tspan x="6093">+ isAnonymous()</tspan><tspan x="6093" dy="14.6">+ switchSearchType()</tspan><tspan x="6093" dy="14.6">+ getResults()</tspan><tspan x="6093" dy="14.6">+ setResults()</tspan><tspan x="6093" dy="14.6">+ addResult()</tspan><tspan x="6093" dy="14.6">+ appendToFailed()</tspan><tspan x="6093" dy="14.6">+ isFailed()</tspan><tspan x="6093" dy="14.6">+ appendToChecked()</tspan><tspan x="6093" dy="14.6">+ isChecked()</tspan><tspan x="6093" dy="14.6">+ getCheckedItems()</tspan><tspan x="6093" dy="14.6">and 16 more...</tspan><tspan x="6093" dy="14.6">+ _getInstance()</tspan><tspan x="6093" dy="14.6">- __construct()</tspan><tspan x="6093" dy="14.6">- read()</tspan><tspan x="6093" dy="14.6">- readAnonymous()</tspan></text></g>
<g id="ilObjectDataCache" class="n"><rect x="6752" y="1177" width="183" height="310"/><text class="ti" x="6843" y="1194">ilObjectDataCache</text><path d="M6752,1202 h183 M6752,1228 h183"/><text x="6757" y="1242"><tspan x="6757">+ __construct()</tspan><tspan x="6757" dy="14.3">+ deleteCachedEntry()</tspan><tspan x="6757" dy="14.3">+ lookupObjId()</tspan><tspan x="6757" dy="14.3">+ lookupTitle()</tspan><tspan x="6757" dy="14.3">+ lookupType()</tspan><tspan x="6757" dy="14.3">+ lookupOwner()</tspan><tspan x="6757" dy="14.3">+ lookupDescription()</tspan><tspan x="6757" dy="14.3">+ lookupLastUpdate()</tspan><tspan x="6757" dy="14.3">+ lookupOfflineStatus()</tspan><tspan x="6757" dy="14.3">+ isTranslatedDescription()</tspan><tspan x="6757" dy="14.3">+ preloadObjectCache()</tspan><tspan x="6757" dy="14.3">+ preloadTranslations()</tspan><tspan x="6757" dy="14.3">+ preloadReferenceCache()</tspan><tspan x="6757" dy="14.3">- __isReferenceCached()</tspan><tspan x="6757" dy="14.3">- __isObjectCached()</tspan><tspan x="6757" dy="14.3">- __storeReference()</tspan><tspan x="6757" dy="14.3">- __storeObjectData()</tspan></text></g>
<g id="ILIAS_Data_Factory" class="n"><rect x="7264" y="1220" width="134" height="223"/><text class="ti" x="7331" y="1237">ILIAS\Data\Factory</text><path d="M7264,1245 h134 M7264,1271 h134"/><text x="7269" y="1285"><tspan x="7269">+ ok()</tspan><tspan x="7269" dy="14.6">+ error()</tspan><tspan x="7269" dy="14.6">+ color()</tspan><tspan x="7269" dy="14.6">+ uri()</tspan><tspan x="7269" dy="14.6">+ dataSize()</tspan><tspan x="7269" dy="14.6">+ password()</tspan><tspan x="7269" dy="14.6">+ clientId()</tspan><tspan x="7269" dy="14.6">+ refId()</tspan><tspan x="7269" dy="14.6">+ objId()</tspan><tspan x="7269" dy="14.6">+ alphanumeric()</tspan><tspan x="7269" dy="14.6">and 9 more...</tspan></text></g>
<g id="ilComponentFactory" class="n"><rect x="5349" y="1288" width="174" height="90"/><text class="ti" x="5436" y="1305">ilComponentFactory</text><path d="M5349,1313 h174 M5349,1339 h174"/><text x="5354" y="1353"><tspan x="5354">+ getPlugin()</tspan><tspan x="5354" dy="14.6">+ getActivePluginsInSlot()</tspan></text></g>
<g id="ilDateTime" class="n"><rect x="2590" y="1880" width="163" height="313"/><text class="ti" x="2671" y="1897">ilDateTime</text><path d="M2590,1905 h163 M2590,1931 h163"/><text x="2595" y="1945"><tspan x="2595">+ __construct()</tspan><tspan x="2595" dy="14.6">+ __clone()</tspan><tspan x="2595" dy="14.6">+ __sleep()</tspan><tspan x="2595" dy="14.6">+ __wakeup()</tspan><tspan x="2595" dy="14.6">+ isNull()</tspan><tspan x="2595" dy="14.6">+ switchTimeZone()</tspan><tspan x="2595" dy="14.6">+ getTimeZoneIdentifier()</tspan><tspan x="2595" dy="14.6">+ increment()</tspan><tspan x="2595" dy="14.6">+ getUnixTime()</tspan><tspan x="2595" dy="14.6">+ setDate()</tspan><tspan x="2595" dy="14.6">+ get()</tspan><tspan x="2595" dy="14.6">+ __toString()</tspan><tspan x="2595" dy="14.6">+ _before()</tspan><tspan x="2595" dy="14.6">+ _equals()</tspan><tspan x="2595" dy="14.6">+ _after()</tspan><tspan x="2595" dy="14.6">+ _within()</tspan><tspan x="2595" dy="14.6"># parsePartsToDate()</tspan></text></g>
<g id="ilObjectDefinition" class="n"><rect x="2879" y="1853" width="218" height="370"/><text class="ti" x="2988" y="1870">ilObjectDefinition</text><path d="M2879,1878 h218 M2879,1904 h218"/><text x="2884" y="1918"><tspan x="2884">+ __construct()</tspan><tspan x="2884" dy="14.6">+ readDefinitionData()</tspan><tspan x="2884" dy="14.6">+ getClassName()</tspan><tspan x="2884" dy="14.6">+ getLocation()</tspan><tspan x="2884" dy="14.6">+ getGroup()</tspan><tspan x="2884" dy="14.6">+ getGroupOfObj()</tspan><tspan x="2884" dy="14.6">+ hasCheckbox()</tspan><tspan x="2884" dy="14.6">+ getTranslationType()</tspan><tspan x="2884" dy="14.6">+ stopInheritance()</tspan><tspan x="2884" dy="14.6">+ getDevMode()</tspan><tspan x="2884" dy="14.6">and 64 more...</tspan><tspan x="2884" dy="14.6">+ getRepositoryObjectTypes</tspan><tspan x="2884" dy="14.6">ForComponent()</tspan><tspan x="2884" dy="14.6">+ getComponentForType()</tspan><tspan x="2884" dy="14.6">+ getGroupedRepositoryObject</tspan><tspan x="2884" dy="14.6">Types()</tspan><tspan x="2884" dy="14.6"># readDefinitionDataFromCache()</tspan><tspan x="2884" dy="14.6"># readDefinitionDataFromDB()</tspan><tspan x="2884" dy="14.6"># readPluginData()</tspan><tspan x="2884" dy="14.6"># parsePluginData()</tspan><tspan x="2884" dy="14.6"># getGroupedPluginObjectTypes()</tspan></text></g>
<g id="ILIAS" class="n"><rect x="3331" y="1919" width="136" height="236"/><text class="ti" x="3399" y="1936">ILIAS</text><path d="M3331,1944 h136 M3331,2025 h136"/><text x="3336" y="1958"><tspan x="3336">+ $account</tspan><tspan x="3336" dy="14.6">+ $ini</tspan><tspan x="3336" dy="14.6">+ $ini_ilias</tspan><tspan x="3336" dy="14.6">+ $db</tspan><tspan x="3336" dy="14.6">+ $error_obj</tspan></text><text x="3336" y="2039"><tspan x="3336">+ __construct()</tspan><tspan x="3336" dy="14.6">+ getSetting()</tspan><tspan x="3336" dy="14.6">+ deleteSetting()</tspan><tspan x="3336" dy="14.6">+ getAllSettings()</tspan><tspan x="3336" dy="14.6">+ setSetting()</tspan><tspan x="3336" dy="14.6">+ getClientId()</tspan><tspan x="3336" dy="14.6">+ raiseError()</tspan><tspan x="3336" dy="14.6"># getSettingObject()</tspan></text></g>
<g id="ilCachedLanguage" class="n"><rect x="4361" y="1902" width="139" height="268"/><text class="ti" x="4430" y="1919">ilCachedLanguage</text><path d="M4361,1927 h139 M4361,1953 h139"/><text x="4366" y="1967"><tspan x="4366">+ isActive()</tspan><tspan x="4366" dy="14.6">+ writeToCache()</tspan><tspan x="4366" dy="14.6">+ deleteInCache()</tspan><tspan x="4366" dy="14.6">+ flush()</tspan><tspan x="4366" dy="14.6">+ setLanguageKey()</tspan><tspan x="4366" dy="14.6">+ getLanguageKey()</tspan><tspan x="4366" dy="14.6">+ setLoaded()</tspan><tspan x="4366" dy="14.6">+ getLoaded()</tspan><tspan x="4366" dy="14.6">+ setTranslations()</tspan><tspan x="4366" dy="14.6">+ getTranslations()</tspan><tspan x="4366" dy="14.6">+ getInstance()</tspan><tspan x="4366" dy="14.6"># __construct()</tspan><tspan x="4366" dy="14.6"># readFromCache()</tspan><tspan x="4366" dy="14.6"># readFromDB()</tspan></text></g>
<g id="ilAppEventHandler" class="n"><rect x="5424" y="1983" width="131" height="107"/><text class="ti" x="5489" y="2000">ilAppEventHandler</text><path d="M5424,2008 h131 M5424,2034 h131"/><text x="5429" y="2048"><tspan x="5429">+ __construct()</tspan><tspan x="5429" dy="14.6">+ raise()</tspan><tspan x="5429" dy="14.6"># initListeners()</tspan></text></g>
<g id="ilSearchSettings" class="n"><rect x="2931" y="2330" width="224" height="339"/><text class="ti" x="3043" y="2347">ilSearchSettings</text><path d="M2931,2355 h224 M2931,2392 h224"/><text x="2936" y="2369"><tspan x="2936"># $showRelevance</tspan><tspan x="2936" dy="14.6"># $showSubRelevance</tspan></text><text x="2936" y="2406"><tspan x="2936">+ __construct()</tspan><tspan x="2936" dy="14.6">+ getEnabledLuceneItemFilter</tspan><tspan x="2936" dy="14.6">Definitions()</tspan><tspan x="2936" dy="14.6">+ getEnabledLuceneMimeFilter</tspan><tspan x="2936" dy="14.6">Definitions()</tspan><tspan x="2936" dy="14.6">+ enablePrefixWildcardQuery()</tspan><tspan x="2936" dy="14.6">+ isPrefixWildcardQueryEnabled()</tspan><tspan x="2936" dy="14.6">+ enabledLucene()</tspan><tspan x="2936" dy="14.6">+ enableLucene()</tspan><tspan x="2936" dy="14.6">+ getMaxHits()</tspan><tspan x="2936" dy="14.6">+ setMaxHits()</tspan><tspan x="2936" dy="14.6">+ getDefaultOperator()</tspan><tspan x="2936" dy="14.6">and 35 more...</tspan><tspan x="2936" dy="14.6">+ getInstance()</tspan><tspan x="2936" dy="14.6">+ getLuceneItemFilterDefinitions()</tspan><tspan x="2936" dy="14.6">+ getLuceneMimeFilterDefinitions()</tspan><tspan x="2936" dy="14.6">+ getSearchSettingRefId()</tspan><tspan x="2936" dy="14.6"># __read()</tspan></text></g>
<g id="ilLanguage" class="n"><rect x="3291" y="2338" width="176" height="324"/><text class="ti" x="3379" y="2355">ilLanguage</text><path d="M3291,2363 h176 M3291,2389 h176"/><text x="3296" y="2403"><tspan x="3296">+ __construct()</tspan><tspan x="3296" dy="14.6">+ getLangKey()</tspan><tspan x="3296" dy="14.6">+ getDefaultLanguage()</tspan><tspan x="3296" dy="14.6">+ getTextDirection()</tspan><tspan x="3296" dy="14.6">+ getContentLanguage()</tspan><tspan x="3296" dy="14.6">+ txtlng()</tspan><tspan x="3296" dy="14.6">+ txt()</tspan><tspan x="3296" dy="14.6">+ exists()</tspan><tspan x="3296" dy="14.6">+ loadLanguageModule()</tspan><tspan x="3296" dy="14.6">+ getInstalledLanguages()</tspan><tspan x="3296" dy="14.6">and 7 more...</tspan><tspan x="3296" dy="14.6">+ _getInstalledLanguages()</tspan><tspan x="3296" dy="14.6">+ _lookupEntry()</tspan><tspan x="3296" dy="14.6">+ lookupId()</tspan><tspan x="3296" dy="14.6">+ getFallbackInstance()</tspan><tspan x="3296" dy="14.6">+ getGlobalInstance()</tspan><tspan x="3296" dy="14.6"># logUsage()</tspan><tspan x="3296" dy="14.6"># isUsageLogEnabled()</tspan></text></g>
<g id="ilRbacAdmin" class="n"><rect x="2013" y="1912" width="189" height="253"/><text class="ti" x="2107" y="1929">ilRbacAdmin</text><path d="M2013,1937 h189 M2013,1963 h189"/><text x="2018" y="1977"><tspan x="2018">+ __construct()</tspan><tspan x="2018" dy="14.6">+ setBlockedStatus()</tspan><tspan x="2018" dy="14.6">+ removeUser()</tspan><tspan x="2018" dy="14.6">+ deleteRole()</tspan><tspan x="2018" dy="14.6">+ deleteTemplate()</tspan><tspan x="2018" dy="14.6">+ deleteLocalRole()</tspan><tspan x="2018" dy="14.6">+ assignUserLimited()</tspan><tspan x="2018" dy="14.6">+ assignUser()</tspan><tspan x="2018" dy="14.6">+ deassignUser()</tspan><tspan x="2018" dy="14.6">+ grantPermission()</tspan><tspan x="2018" dy="14.6">and 18 more...</tspan><tspan x="2018" dy="14.6"># applyMovedObjectDidactic</tspan><tspan x="2018" dy="14.6">Templates()</tspan></text></g>
<g id="ilOrgUnitGlobalSettings" class="n"><rect x="1910" y="2396" width="209" height="208"/><text class="ti" x="2014" y="2413">ilOrgUnitGlobalSettings</text><path d="M1910,2421 h209 M1910,2447 h209"/><text x="1915" y="2461"><tspan x="1915">+ getObjectPositionSettings</tspan><tspan x="1915" dy="14.6">ByType()</tspan><tspan x="1915" dy="14.6">+ isPositionAccessActiveFor</tspan><tspan x="1915" dy="14.6">Object()</tspan><tspan x="1915" dy="14.6">+ saveDefaultPositionActivation</tspan><tspan x="1915" dy="14.6">Status()</tspan><tspan x="1915" dy="14.6">+ getPositionSettings()</tspan><tspan x="1915" dy="14.6">+ getInstance()</tspan><tspan x="1915" dy="14.6">- __construct()</tspan><tspan x="1915" dy="14.6">- readSettings()</tspan></text></g>
<g id="ilQueryParser" class="n"><rect x="2281" y="3036" width="166" height="219"/><text class="ti" x="2364" y="3053">ilQueryParser</text><path d="M2281,3061 h166 M2281,3087 h166"/><text x="2286" y="3101"><tspan x="2286">+ __construct()</tspan><tspan x="2286" dy="14.6">+ setMinWordLength()</tspan><tspan x="2286" dy="14.6">+ getMinWordLength()</tspan><tspan x="2286" dy="14.6">+ setGlobalMinLength()</tspan><tspan x="2286" dy="14.6">+ getGlobalMinLength()</tspan><tspan x="2286" dy="14.6">+ setAllowedWildcards()</tspan><tspan x="2286" dy="14.6">+ getAllowedWildcards()</tspan><tspan x="2286" dy="14.6">+ setMessage()</tspan><tspan x="2286" dy="14.6">+ getMessage()</tspan><tspan x="2286" dy="14.6">+ appendMessage()</tspan><tspan x="2286" dy="14.6">and 9 more...</tspan></text></g>
<g id="ilOrgUnitPositionAndRBACAccessHandler" class="n"><rect x="767" y="3813" width="226" height="165"/><text class="ti" x="880" y="3830"><tspan x="880">ilOrgUnitPositionAndRBACAccess</tspan><tspan x="880" dy="14">Handler</tspan></text><path d="M767,3853 h226 M767,3879 h226"/><text x="772" y="3893"><tspan x="772">+ checkRbacOrPositionPermission</tspan><tspan x="772" dy="14.6">Access()</tspan><tspan x="772" dy="14.6">+ filterUserIdsByRbacOrPosition</tspan><tspan x="772" dy="14.6">OfCurrentUser()</tspan><tspan x="772" dy="14.6">+ hasUserRBACorAnyPosition</tspan><tspan x="772" dy="14.6">Access()</tspan></text></g>
<g id="ilOrgUnitPositionAccessHandler" class="n"><rect x="1069" y="3768" width="247" height="253"/><text class="ti" x="1192" y="3785">ilOrgUnitPositionAccessHandler</text><path d="M1069,3793 h247 M1069,3819 h247"/><text x="1074" y="3833"><tspan x="1074">+ filterUserIdsForCurrentUsers</tspan><tspan x="1074" dy="14.6">PositionsAndPermission()</tspan><tspan x="1074" dy="14.6">+ filterUserIdsForUsersPositions</tspan><tspan x="1074" dy="14.6">AndPermission()</tspan><tspan x="1074" dy="14.6">+ isCurrentUserBasedOnPositions</tspan><tspan x="1074" dy="14.6">AllowedTo()</tspan><tspan x="1074" dy="14.6">+ isUserBasedOnPositionsAllowedTo()</tspan><tspan x="1074" dy="14.6">+ checkPositionAccess()</tspan><tspan x="1074" dy="14.6">+ hasCurrentUserAnyPosition</tspan><tspan x="1074" dy="14.6">Access()</tspan><tspan x="1074" dy="14.6">+ filterUserIdsByPositionOf</tspan><tspan x="1074" dy="14.6">CurrentUser()</tspan><tspan x="1074" dy="14.6">+ filterUserIdsByPositionOfUser()</tspan></text></g>
<g id="ilRBACAccessHandler" class="n"><rect x="1342" y="3783" width="215" height="222"/><text class="ti" x="1449" y="3800">ilRBACAccessHandler</text><path d="M1342,3808 h215 M1342,3834 h215"/><text x="1347" y="3848"><tspan x="1347">+ storeAccessResult()</tspan><tspan x="1347" dy="14.6">+ getStoredAccessResult()</tspan><tspan x="1347" dy="14.6">+ setPreventCachingLastResult()</tspan><tspan x="1347" dy="14.6">+ getPreventCachingLastResult()</tspan><tspan x="1347" dy="14.6">+ storeCache()</tspan><tspan x="1347" dy="14.6">+ readCache()</tspan><tspan x="1347" dy="14.6">+ getResults()</tspan><tspan x="1347" dy="14.6">+ setResults()</tspan><tspan x="1347" dy="14.6">+ addInfoItem()</tspan><tspan x="1347" dy="14.6">+ checkAccess()</tspan><tspan x="1347" dy="14.6">and 10 more...</tspan></text></g>
<g id="ilOrgUnitPositionAccess" class="n"><rect x="1242" y="4937" width="252" height="413"/><text class="ti" x="1368" y="4954">ilOrgUnitPositionAccess</text><path d="M1242,4962 h252 M1242,4988 h252"/><text x="1247" y="5001"><tspan x="1247">+ __construct()</tspan><tspan x="1247" dy="14.1">+ filterUserIdsForCurrentUsers</tspan><tspan x="1247" dy="14.1">PositionsAndPermission()</tspan><tspan x="1247" dy="14.1">+ filterUserIdsForUsersPositions</tspan><tspan x="1247" dy="14.1">AndPermission()</tspan><tspan x="1247" dy="14.1">+ isCurrentUserBasedOnPositions</tspan><tspan x="1247" dy="14.1">AllowedTo()</tspan><tspan x="1247" dy="14.1">+ isUserBasedOnPositionsAllowedTo()</tspan><tspan x="1247" dy="14.1">+ filterUserIdsByPositionOf</tspan><tspan x="1247" dy="14.1">CurrentUser()</tspan><tspan x="1247" dy="14.1">+ filterUserIdsByPositionOfUser()</tspan><tspan x="1247" dy="14.1">+ checkPositionAccess()</tspan><tspan x="1247" dy="14.1">+ hasCurrentUserAnyPosition</tspan><tspan x="1247" dy="14.1">Access()</tspan><tspan x="1247" dy="14.1">+ checkRbacOrPositionPermission</tspan><tspan x="1247" dy="14.1">Access()</tspan><tspan x="1247" dy="14.1">+ filterUserIdsByRbacOrPosition</tspan><tspan x="1247" dy="14.1">OfCurrentUser()</tspan><tspan x="1247" dy="14.1">+ hasUserRBACorAnyPosition</tspan><tspan x="1247" dy="14.1">Access()</tspan><tspan x="1247" dy="14.1">- getCurrentUsersId()</tspan><tspan x="1247" dy="14.1">- getTypeForRefId()</tspan><tspan x="1247" dy="14.1">- getObjIdForRefId()</tspan><tspan x="1247" dy="14.1">- isPositionActiveForRefId()</tspan></text></g>
<g id="ilMDSearch" class="n gray"><rect x="3042" y="5414" width="182" height="139"/><text class="ti" x="3133" y="5431">ilMDSearch</text><path d="M3042,5439 h182 M3042,5465 h182"/><text x="3047" y="5479"><tspan x="3047">+ __construct()</tspan><tspan x="3047" dy="14.3">+ setMode()</tspan><tspan x="3047" dy="14.3">+ getMode()</tspan><tspan x="3047" dy="14.3">+ performSearch()</tspan><tspan x="3047" dy="14.3">+ __searchKeywordsOnly()</tspan></text></g>
<g id="ilRbacSystem" class="n"><rect x="5683" y="4333" width="175" height="238"/><text class="ti" x="5770" y="4350">ilRbacSystem</text><path d="M5683,4358 h175 M5683,4384 h175"/><text x="5688" y="4398"><tspan x="5688">+ checkAccess()</tspan><tspan x="5688" dy="14.6">+ checkAccessOfUser()</tspan><tspan x="5688" dy="14.6">+ preloadRbacPaCache()</tspan><tspan x="5688" dy="14.6">+ checkPermission()</tspan><tspan x="5688" dy="14.6">+ initMemberView()</tspan><tspan x="5688" dy="14.6">+ addTemporaryRole()</tspan><tspan x="5688" dy="14.6">+ resetPACache()</tspan><tspan x="5688" dy="14.6">+ getInstance()</tspan><tspan x="5688" dy="14.6">+ resetCaches()</tspan><tspan x="5688" dy="14.6"># __construct()</tspan><tspan x="5688" dy="14.6"># filterOwnerPermissions()</tspan><tspan x="5688" dy="14.6">- fetchAssignedRoles()</tspan></text></g>
<g id="ilAccess" class="n"><rect x="3780" y="4635" width="217" height="237"/><text class="ti" x="3888" y="4652">ilAccess</text><path d="M3780,4660 h217 M3780,4686 h217"/><text x="3785" y="4700"><tspan x="3785">+ __construct()</tspan><tspan x="3785" dy="14.6">+ storeAccessResult()</tspan><tspan x="3785" dy="14.6">+ setPreventCachingLastResult()</tspan><tspan x="3785" dy="14.6">+ getPreventCachingLastResult()</tspan><tspan x="3785" dy="14.6">+ getStoredAccessResult()</tspan><tspan x="3785" dy="14.6">+ storeCache()</tspan><tspan x="3785" dy="14.6">+ readCache()</tspan><tspan x="3785" dy="14.6">+ getResults()</tspan><tspan x="3785" dy="14.6">+ setResults()</tspan><tspan x="3785" dy="14.6">+ addInfoItem()</tspan><tspan x="3785" dy="14.6">and 21 more...</tspan><tspan x="3785" dy="14.6">- getLanguage()</tspan></text></g>
<g id="ilSearchResult" class="n"><rect x="5850" y="5023" width="179" height="238"/><text class="ti" x="5939" y="5040">ilSearchResult</text><path d="M5850,5048 h179 M5850,5074 h179"/><text x="5855" y="5088"><tspan x="5855">+ __construct()</tspan><tspan x="5855" dy="14.6">+ setRequiredPermission()</tspan><tspan x="5855" dy="14.6">+ getRequiredPermission()</tspan><tspan x="5855" dy="14.6">+ setUserId()</tspan><tspan x="5855" dy="14.6">+ getUserId()</tspan><tspan x="5855" dy="14.6">+ getEntries()</tspan><tspan x="5855" dy="14.6">+ isLimitReached()</tspan><tspan x="5855" dy="14.6">+ setMaxHits()</tspan><tspan x="5855" dy="14.6">+ getMaxHits()</tspan><tspan x="5855" dy="14.6">+ isOffsetReached()</tspan><tspan x="5855" dy="14.6">and 25 more...</tspan><tspan x="5855" dy="14.6"># initUserSearchCache()</tspan></text></g>
<g id="ilTreeImplementation" class="n"><rect x="5732" y="1927" width="180" height="220"/><text class="ti" x="5822" y="1944">ilTreeImplementation</text><path d="M5732,1952 h180 M5732,1978 h180"/><text x="5737" y="1992"><tspan x="5737">+ getSubTreeIds()</tspan><tspan x="5737" dy="13.8">+ getSubTreeQuery()</tspan><tspan x="5737" dy="13.8">+ getTrashSubTreeQuery()</tspan><tspan x="5737" dy="13.8">+ getRelation()</tspan><tspan x="5737" dy="13.8">+ getPathIds()</tspan><tspan x="5737" dy="13.8">+ insertNode()</tspan><tspan x="5737" dy="13.8">+ deleteTree()</tspan><tspan x="5737" dy="13.8">+ moveToTrash()</tspan><tspan x="5737" dy="13.8">+ moveTree()</tspan><tspan x="5737" dy="13.8">+ getSubtreeInfo()</tspan><tspan x="5737" dy="13.8">+ validateParentRelations()</tspan></text></g>
<g id="ilTree" class="n"><rect x="5609" y="2340" width="194" height="316"/><text class="ti" x="5706" y="2357">ilTree</text><path d="M5609,2365 h194 M5609,2388 h194"/><text x="5614" y="2379"># DEFAULT_GAP</text><text x="5614" y="2402"><tspan x="5614">+ __construct()</tspan><tspan x="5614" dy="14.3">+ initTreeImplementation()</tspan><tspan x="5614" dy="14.3">+ getTreeImplementation()</tspan><tspan x="5614" dy="14.3">+ useCache()</tspan><tspan x="5614" dy="14.3">+ isCacheUsed()</tspan><tspan x="5614" dy="14.3">+ getDepthCache()</tspan><tspan x="5614" dy="14.3">+ getParentCache()</tspan><tspan x="5614" dy="14.3">+ initLangCode()</tspan><tspan x="5614" dy="14.3">+ getTreeTable()</tspan><tspan x="5614" dy="14.3">+ getObjectDataTable()</tspan><tspan x="5614" dy="14.3">and 98 more...</tspan><tspan x="5614" dy="14.3">+ lookupTreesForNode()</tspan><tspan x="5614" dy="14.3">+ lookupEntry()</tspan><tspan x="5614" dy="14.3"># getLangCode()</tspan><tspan x="5614" dy="14.3"># fetchTranslationFromObject</tspan><tspan x="5614" dy="14.3">DataCache()</tspan><tspan x="5614" dy="14.3">- numbering()</tspan></text></g>
<g id="ILIAS_HTTP_GlobalHttpState" class="n"><rect x="5675" y="3796" width="190" height="194"/><text class="ti" x="5770" y="3813">ILIAS\HTTP\GlobalHttpState</text><path d="M5675,3821 h190 M5675,3847 h190"/><text x="5680" y="3861"><tspan x="5680">+ wrapper()</tspan><tspan x="5680" dy="14.6">+ request()</tspan><tspan x="5680" dy="14.6">+ response()</tspan><tspan x="5680" dy="14.6">+ cookieJar()</tspan><tspan x="5680" dy="14.6">+ saveRequest()</tspan><tspan x="5680" dy="14.6">+ saveResponse()</tspan><tspan x="5680" dy="14.6">+ sendResponse()</tspan><tspan x="5680" dy="14.6">+ close()</tspan></text></g>
<g id="ilObject" class="n"><rect x="3734" y="2835" width="226" height="619"/><text class="ti" x="3847" y="2852">ilObject</text><path d="M3734,2860 h226 M3734,2886 h226"/><text x="3739" y="2900"><tspan x="3739">+ __construct()</tspan><tspan x="3739" dy="14.6">+ withReferences()</tspan><tspan x="3739" dy="14.6">+ processAutoRating()</tspan><tspan x="3739" dy="14.6">+ read()</tspan><tspan x="3739" dy="14.6">+ getId()</tspan><tspan x="3739" dy="14.6">+ setId()</tspan><tspan x="3739" dy="14.6">+ setRefId()</tspan><tspan x="3739" dy="14.6">+ getRefId()</tspan><tspan x="3739" dy="14.6">+ getType()</tspan><tspan x="3739" dy="14.6">+ setType()</tspan><tspan x="3739" dy="14.6">and 38 more...</tspan><tspan x="3739" dy="14.6">+ _lookupObjIdByImportId()</tspan><tspan x="3739" dy="14.6">+ _lookupImportId()</tspan><tspan x="3739" dy="14.6">+ _lookupOwnerName()</tspan><tspan x="3739" dy="14.6">+ _getIdsForImportId()</tspan><tspan x="3739" dy="14.6">+ _getAllReferences()</tspan><tspan x="3739" dy="14.6">+ _lookupTitle()</tspan><tspan x="3739" dy="14.6">+ lookupOfflineStatus()</tspan><tspan x="3739" dy="14.6">+ _lookupOwner()</tspan><tspan x="3739" dy="14.6">+ _getIdsForTitle()</tspan><tspan x="3739" dy="14.6">+ _lookupDescription()</tspan><tspan x="3739" dy="14.6">and 26 more...</tspan><tspan x="3739" dy="14.6"># doMDUpdateListener()</tspan><tspan x="3739" dy="14.6"># beforeMDUpdateListener()</tspan><tspan x="3739" dy="14.6"># doCreateMetaData()</tspan><tspan x="3739" dy="14.6"># beforeCreateMetaData()</tspan><tspan x="3739" dy="14.6"># doUpdateMetaData()</tspan><tspan x="3739" dy="14.6"># beforeUpdateMetaData()</tspan><tspan x="3739" dy="14.6"># doDeleteMetaData()</tspan><tspan x="3739" dy="14.6"># beforeDeleteMetaData()</tspan><tspan x="3739" dy="14.6"># handleAutoRating()</tspan><tspan x="3739" dy="14.6"># hasAutoRating()</tspan><tspan x="3739" dy="14.6">- appendCopyInfoToTranslations()</tspan><tspan x="3739" dy="14.6">- getCallbackForTitlesPerLanguage</tspan><tspan x="3739" dy="14.6">Transformation()</tspan><tspan x="3739" dy="14.6">- appendNumberOfCopiesToTitle()</tspan><tspan x="3739" dy="14.6">- isTitleUnique()</tspan><tspan x="3739" dy="14.6">- buildTitleWithoutCopySuffix()</tspan></text></g>
<g id="ilObjUser" class="n"><rect x="3788" y="3518" width="203" height="751"/><text class="ti" x="3889" y="3535">ilObjUser</text><path d="M3788,3543 h203 M3788,3858 h203"/><text x="3793" y="3557"><tspan x="3793">+ $login</tspan><tspan x="3793" dy="14.6">+ $gender</tspan><tspan x="3793" dy="14.6">+ $utitle</tspan><tspan x="3793" dy="14.6">+ $firstname</tspan><tspan x="3793" dy="14.6">+ $lastname</tspan><tspan x="3793" dy="14.6">+ $fullname</tspan><tspan x="3793" dy="14.6">+ $department</tspan><tspan x="3793" dy="14.6">+ $street</tspan><tspan x="3793" dy="14.6">+ $city</tspan><tspan x="3793" dy="14.6">+ $country</tspan><tspan x="3793" dy="14.6">and 12 more...</tspan><tspan x="3793" dy="14.6"># $time_limit_message</tspan><tspan x="3793" dy="14.6"># $last_login</tspan><tspan x="3793" dy="14.6"># $passwd</tspan><tspan x="3793" dy="14.6"># $password_encoding_type</tspan><tspan x="3793" dy="14.6"># $password_salt</tspan><tspan x="3793" dy="14.6"># $birthday</tspan><tspan x="3793" dy="14.6"># $second_email</tspan><tspan x="3793" dy="14.6"># $inactivation_date</tspan><tspan x="3793" dy="14.6"># $org_units</tspan><tspan x="3793" dy="14.6"># $last_profile_prompt</tspan></text><text x="3793" y="3872"><tspan x="3793">+ __construct()</tspan><tspan x="3793" dy="14">+ read()</tspan><tspan x="3793" dy="14">+ getPasswordEncodingType()</tspan><tspan x="3793" dy="14">+ setPasswordEncodingType()</tspan><tspan x="3793" dy="14">+ getPasswordSalt()</tspan><tspan x="3793" dy="14">+ setPasswordSalt()</tspan><tspan x="3793" dy="14">+ assignData()</tspan><tspan x="3793" dy="14">+ saveAsNew()</tspan><tspan x="3793" dy="14">+ update()</tspan><tspan x="3793" dy="14">+ writeAccepted()</tspan><tspan x="3793" dy="14">and 168 more...</tspan><tspan x="3793" dy="14">+ _lookupFullname()</tspan><tspan x="3793" dy="14">+ _lookupEmail()</tspan><tspan x="3793" dy="14">+ _lookupGender()</tspan><tspan x="3793" dy="14">+ _lookupClientIP()</tspan><tspan x="3793" dy="14">+ _lookupName()</tspan><tspan x="3793" dy="14">+ _lookupFields()</tspan><tspan x="3793" dy="14">+ _lookupLogin()</tspan><tspan x="3793" dy="14">+ _lookupExternalAccount()</tspan><tspan x="3793" dy="14">+ _lookupId()</tspan><tspan x="3793" dy="14">+ _lookupLastLogin()</tspan><tspan x="3793" dy="14">and 63 more...</tspan><tspan x="3793" dy="14"># buildTextFromArray()</tspan><tspan x="3793" dy="14"># updateMultiTextFields()</tspan><tspan x="3793" dy="14"># readMultiTextFields()</tspan><tspan x="3793" dy="14"># deleteMultiTextFields()</tspan><tspan x="3793" dy="14">- _lookup()</tspan></text></g>
</svg>
